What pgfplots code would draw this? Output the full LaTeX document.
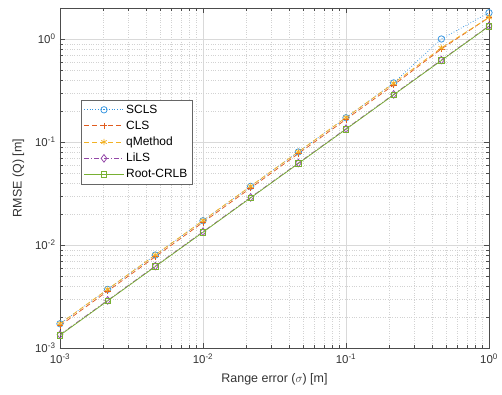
\documentclass[border=0pt]{standalone}
\usepackage{pgfplots}
\pgfplotsset{compat=1.18}
\usepackage{fontspec}
\setmainfont{Liberation Sans}
\definecolor{c1}{rgb}{0.20,0.58,0.88}
\definecolor{c2}{rgb}{0.88,0.36,0.12}
\definecolor{c3}{rgb}{0.95,0.70,0.15}
\definecolor{c4}{rgb}{0.58,0.28,0.66}
\definecolor{c5}{rgb}{0.47,0.69,0.20}
\begin{document}
\begin{tikzpicture}
\begin{axis}[
  at={(0,0)}, anchor=south west,
  scale only axis, width=429bp, height=340bp,
  xmode=log, ymode=log,
  xmin=1e-3, xmax=1, ymin=1e-3, ymax=2,
  xtick={1e-3,1e-2,1e-1,1},
  xticklabels={10\textsuperscript{-3},10\textsuperscript{-2},10\textsuperscript{-1},10\textsuperscript{0}},
  ytick={1e-3,1e-2,1e-1,1},
  yticklabels={10\textsuperscript{-3},10\textsuperscript{-2},10\textsuperscript{-1},10\textsuperscript{0}},
  tick label style={font=\fontsize{11.5}{13}\selectfont, text=black!80},
  xticklabel style={yshift=-2bp},
  yticklabel style={xshift=-1bp},
  label style={font=\fontsize{12.5}{14}\selectfont, text=black!80},
  xlabel={Range error ($\sigma$) [m]},
  ylabel={RMSE (Q) [m]},
  xlabel style={yshift=-3bp},
  ylabel style={yshift=4bp},
  grid=both,
  major grid style={gray!30, line width=0.4pt},
  minor grid style={gray!35, dotted, line width=0.4pt},
  tick align=inside,
  major tick length=5bp, minor tick length=3bp,
  every tick/.style={black!70},
  axis line style={black!70, line width=0.5pt},
  legend style={at={(0.049,0.729)}, anchor=north west, font=\fontsize{12}{14}\selectfont,
    draw=black!60, line width=0.5pt, row sep=2.2bp, inner sep=2.5bp},
  legend cell align=left,
  legend image code/.code={\draw[mark repeat=2,mark phase=2,#1] plot coordinates {(0cm,0cm) (0.7cm,0cm) (1.4cm,0cm)};},
  every axis plot/.append style={line width=0.75pt, mark size=3.2bp},
  clip=false,
]
\addplot[color=c1, draw=c1, dotted, mark=o, mark options={solid, draw=c1}] coordinates {
(0.001,0.00172) (0.0021544,0.00371) (0.0046416,0.00799) (0.01,0.0172) (0.021544,0.0371)
(0.046416,0.0800) (0.1,0.172) (0.21544,0.375) (0.46416,1.0) (1.0,1.8)};
\addlegendentry{SCLS}
\addplot[color=c2, draw=c2, dash pattern=on 5bp off 3bp, mark=+, mark options={solid, draw=c2}] coordinates {
(0.001,0.00165) (0.0021544,0.00357) (0.0046416,0.00770) (0.01,0.0166) (0.021544,0.0358)
(0.046416,0.0771) (0.1,0.166) (0.21544,0.358) (0.46416,0.80) (1.0,1.62)};
\addlegendentry{CLS}
\addplot[color=c3, draw=c3, dash pattern=on 5bp off 3bp, mark=asterisk, mark options={solid, draw=c3}] coordinates {
(0.001,0.00172) (0.0021544,0.00372) (0.0046416,0.00802) (0.01,0.0173) (0.021544,0.0373)
(0.046416,0.0803) (0.1,0.173) (0.21544,0.372) (0.46416,0.82) (1.0,1.62)};
\addlegendentry{qMethod}
\addplot[color=c4, draw=c4, dash pattern=on 5bp off 2bp on 1bp off 2bp, mark=diamond, mark options={solid, draw=c4, scale=1.2}] coordinates {
(0.001,0.00135) (0.0021544,0.00290) (0.0046416,0.00625) (0.01,0.01345) (0.021544,0.0290)
(0.046416,0.0625) (0.1,0.1345) (0.21544,0.290) (0.46416,0.625) (1.0,1.34)};
\addlegendentry{LiLS}
\addplot[color=c5, draw=c5, solid, mark=square, mark options={solid, draw=c5, scale=0.85}] coordinates {
(0.001,0.00133) (0.0021544,0.00287) (0.0046416,0.00618) (0.01,0.0133) (0.021544,0.0287)
(0.046416,0.0618) (0.1,0.133) (0.21544,0.287) (0.46416,0.618) (1.0,1.33)};
\addlegendentry{Root-CRLB}
\end{axis}
\path[use as bounding box] (-60bp,-47bp) rectangle (442bp,348bp);
\end{tikzpicture}
\end{document}
